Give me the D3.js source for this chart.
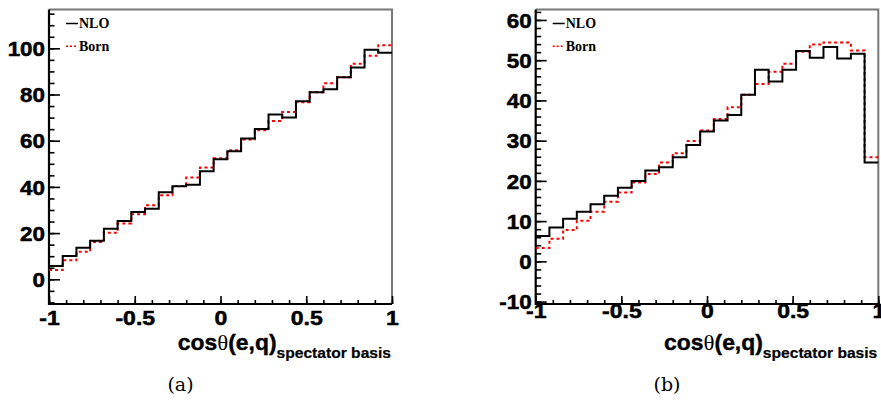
<!DOCTYPE html>
<html lang="en">
<head>
<meta charset="UTF-8">
<title>cos theta (e,q) spectator basis</title>
<script src="https://d3js.org/d3.v7.min.js"></script>
<style>
  body { margin: 0; background: #fff; }
</style>
</head>
<body>
<div id="chart"></div>
<script>

// 25 bins between -1 and 1
var nBins = 25
var xRange = [-1, 1]

// panel (a)
var nloA  = [5.7, 10.1, 13.7, 16.7, 21.9, 25.2, 29.1, 30.5, 37.7, 40.3, 40.9, 46.8, 52.0,
             55.4, 60.9, 65.1, 71.3, 70.0, 77.1, 81.0, 82.3, 87.5, 91.7, 99.4, 98.1]
var bornA = [4.0, 8.2, 11.9, 16.1, 20.1, 24.2, 28.2, 32.1, 36.4, 40.4, 44.1, 48.4, 52.4,
             55.9, 60.5, 64.5, 68.5, 72.4, 76.6, 81.0, 84.9, 87.5, 93.3, 96.8, 101.3]

// panel (b)
var nloB  = [6.3, 8.4, 10.6, 12.3, 14.2, 16.3, 18.3, 20.0, 22.6, 23.4, 25.9, 28.9, 32.3,
             35.0, 36.4, 41.4, 47.6, 44.7, 47.6, 52.3, 50.6, 53.3, 50.4, 51.6, 24.6]
var bornB = [3.3, 5.6, 7.8, 10.1, 12.3, 14.8, 17.1, 19.6, 21.7, 24.6, 26.9, 29.9, 32.5,
             35.4, 38.3, 41.4, 44.1, 47.1, 49.1, 52.1, 53.9, 54.4, 54.4, 52.4, 25.9]

var xTicks = [-1, -0.5, 0, 0.5, 1]
var yTicksA = [0, 20, 40, 60, 80, 100]
var yTicksB = [-10, 0, 10, 20, 30, 40, 50, 60]
var legendLabels = ["NLO", "Born"]
var captions = ["(a)", "(b)"]

var width = 881, height = 403
var sansBold = "Liberation Sans, Arial, Helvetica, sans-serif"

var svg = d3.select("#chart").append("svg")
    .attr("width", width)
    .attr("height", height)

var panels = [
  { nlo: nloA, born: bornA, left: 49, right: 392, yDomain: [-10.7, 116.8],
    yTicks: yTicksA, yMinorStep: 5, xLabelY: 325, caption: captions[0] },
  { nlo: nloB, born: bornB, left: 535.7, right: 878.3, yDomain: [-10.6, 62.6],
    yTicks: yTicksB, yMinorStep: 2, xLabelY: 318, caption: captions[1] }
]
var plotTop = 9.5, plotBottom = 304

function fmtTick(d) {
  return String(d)
}

// ROOT's helvetica-bold is wider than Liberation Sans: stretch a bit
function widen(sel, k) {
  sel.each(function() {
    var len = this.getComputedTextLength()
    d3.select(this).attr("textLength", len * k).attr("lengthAdjust", "spacingAndGlyphs")
  })
}

function drawPanel(p) {
  var x = d3.scaleLinear().domain(xRange).range([p.left, p.right])
  var y = d3.scaleLinear().domain(p.yDomain).range([plotBottom, plotTop])
  var g = svg.append("g")
  var binW = (xRange[1] - xRange[0]) / nBins

  // frame: top and right grey
  g.append("path")
    .attr("d", "M" + p.left + "," + plotTop + "H" + p.right + "V" + plotBottom)
    .attr("fill", "none").attr("stroke", "#777").attr("stroke-width", 2)

  // y minor ticks
  var yMin = Math.ceil(p.yDomain[0] / p.yMinorStep) * p.yMinorStep
  var yMinor = d3.range(yMin, p.yDomain[1], p.yMinorStep)
  g.append("g")
    .attr("transform", "translate(" + p.left + ",0)")
    .call(d3.axisLeft(y).tickValues(yMinor).tickSize(-5.5).tickFormat(""))
    .call(s => s.select(".domain").remove())
    .selectAll("line").attr("stroke-width", 1.6)
  // y major ticks + labels
  var ya = g.append("g")
    .attr("transform", "translate(" + p.left + ",0)")
    .call(d3.axisLeft(y).tickValues(p.yTicks).tickSize(-11).tickFormat(fmtTick))
  ya.select(".domain").remove()
  ya.selectAll("line").attr("stroke-width", 1.6)
  ya.selectAll("text")
    .attr("x", -4)
    .attr("font-family", sansBold)
    .attr("font-weight", "bold").attr("font-size", 20).attr("fill", "#000")
    .attr("stroke", "#000").attr("stroke-width", 0.5)
    .attr("dy", "0.36em")
    .call(widen, 1.12)

  // x minor ticks
  var xMinor = d3.range(-10, 11).map(d => d / 10)
  g.append("g")
    .attr("transform", "translate(0," + plotBottom + ")")
    .call(d3.axisBottom(x).tickValues(xMinor).tickSize(-4).tickFormat(""))
    .call(s => s.select(".domain").remove())
    .selectAll("line").attr("stroke-width", 1.6)
  var xa = g.append("g")
    .attr("transform", "translate(0," + plotBottom + ")")
    .call(d3.axisBottom(x).tickValues(xTicks).tickSize(-8).tickFormat(fmtTick))
  xa.select(".domain").remove()
  xa.selectAll("line").attr("stroke-width", 1.6)
  xa.selectAll("text")
    .attr("y", p.xLabelY - plotBottom).attr("dy", 0)
    .attr("font-family", sansBold)
    .attr("font-weight", "bold").attr("font-size", 20).attr("fill", "#000")
    .attr("stroke", "#000").attr("stroke-width", 0.5)
    .call(widen, 1.15)

  // left and bottom axis lines
  g.append("path")
    .attr("d", "M" + p.left + "," + plotTop + "V" + plotBottom + "H" + p.right)
    .attr("fill", "none").attr("stroke", "#000").attr("stroke-width", 2.2)

  // histograms
  function stepPts(vals) {
    var pts = vals.map((v, i) => [xRange[0] + i * binW, v])
    pts.push([xRange[1], vals[vals.length - 1]])
    return pts
  }
  var line = d3.line().x(d => x(d[0])).y(d => y(d[1])).curve(d3.curveStepAfter)

  g.append("path").datum(stepPts(p.born))
    .attr("d", line).attr("fill", "none")
    .attr("stroke", "#ff0000").attr("stroke-width", 2)
    .attr("stroke-dasharray", "3,3")
  g.append("path").datum(stepPts(p.nlo))
    .attr("d", line).attr("fill", "none")
    .attr("stroke", "#000").attr("stroke-width", 2)

  // legend
  var lx = p.left + 17
  g.append("line").attr("x1", lx).attr("x2", lx + 12).attr("y1", 23.5).attr("y2", 23.5)
    .attr("stroke", "#000").attr("stroke-width", 1.5)
  g.append("line").attr("x1", lx).attr("x2", lx + 12).attr("y1", 46.3).attr("y2", 46.3)
    .attr("stroke", "#ff0000").attr("stroke-width", 1.5).attr("stroke-dasharray", "2,2")
  g.selectAll(".leg").data(legendLabels).enter().append("text")
    .attr("x", lx + 13).attr("y", (d, i) => i === 0 ? 28 : 50.5)
    .attr("font-family", "Liberation Serif, Times New Roman, serif")
    .attr("font-weight", "bold").attr("font-size", 14)
    .text(d => d)

  // x title
  var t = g.append("text")
    .attr("x", p.right - 1).attr("y", 350)
    .attr("text-anchor", "end")
    .attr("font-family", sansBold)
    .attr("font-weight", "bold").attr("font-size", 22)
    .attr("stroke", "#000").attr("stroke-width", 0.4)
  t.append("tspan").text("cos")
  t.append("tspan").attr("font-weight", "normal").attr("stroke-width", 0)
    .attr("font-family", "Liberation Serif, serif").text("θ")
  t.append("tspan").text("(e,q)")
  t.append("tspan").attr("font-size", 15).attr("dy", 8).attr("stroke-width", 0.2).text("spectator basis")
  widen(t, 1.04)

  // caption
  g.append("text")
    .attr("x", (p.left + p.right) / 2 - 40).attr("y", 391)
    .attr("text-anchor", "middle")
    .attr("font-family", "DejaVu Serif, Liberation Serif, serif")
    .attr("font-size", 19)
    .text(p.caption)
}

panels.forEach(drawPanel)

</script>
</body>
</html>
